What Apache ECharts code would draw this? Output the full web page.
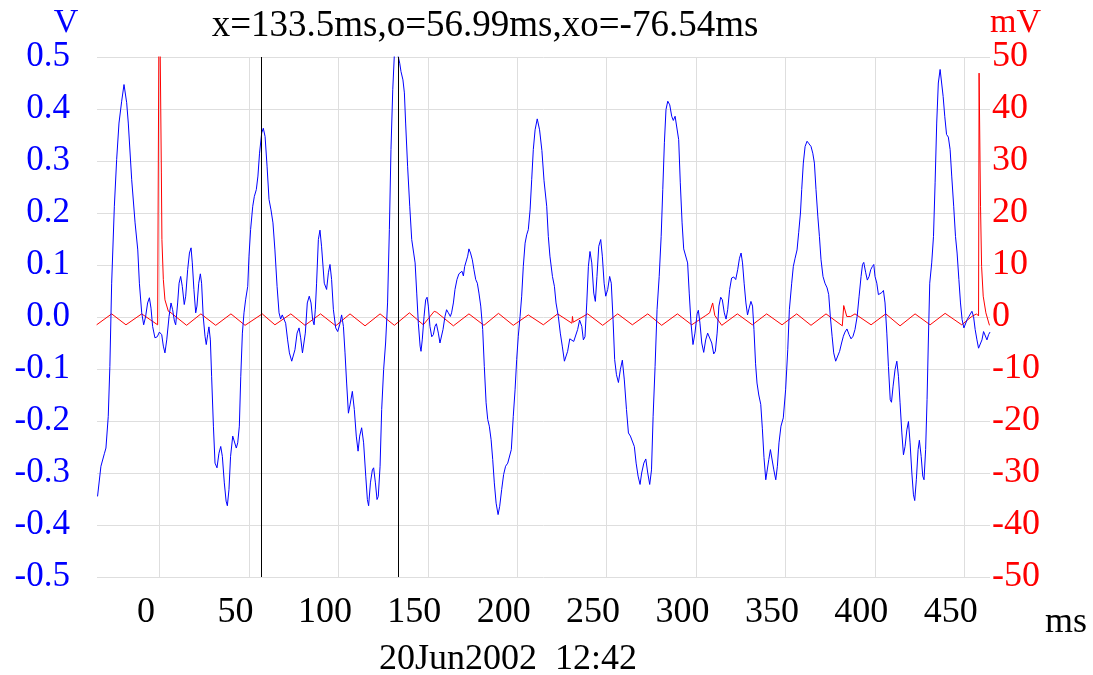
<!DOCTYPE html>
<html>
<head>
<meta charset="utf-8">
<script src="https://cdn.jsdelivr.net/npm/echarts@6.0.0/dist/echarts.min.js"></script>
<style>
  html, body { margin: 0; padding: 0; background: #fff; }
  #chart { width: 1093px; height: 675px; }
</style>
</head>
<body>
<div id="chart"></div>
<script>
// blue trace (V), time in ms
const blueMs = [
  -34.7, -32.8, -30.9, -30.0, -28.7, -27.8, -26.8, -25.3, -24.0, -22.7, -21.2, -19.9, -18.4, -17.5, -15.6, -13.7,
  -12.2, -11.3, -10.0, -8.9, -7.8, -6.7, -5.7, -4.8, -3.9, -2.6, -1.3, -0.1, 1.2, 2.1, 3.0, 4.0,
  5.3, 6.4, 7.3, 8.3, 9.0, 10.1, 10.9, 11.8, 12.7, 13.8, 14.6, 15.7, 16.7, 17.6, 18.3, 19.2,
  20.2, 20.9, 21.9, 22.8, 23.5, 24.4, 25.4, 26.1, 26.9, 27.6, 28.4, 29.1, 30.1, 31.0, 32.1, 33.2,
  34.2, 35.1, 36.2, 37.2, 37.9, 38.8, 39.7, 40.9, 41.8, 42.9, 43.7, 44.6, 45.4, 46.3, 47.2, 48.1,
  49.3, 50.0, 50.9, 52.1, 53.0, 54.1, 55.0, 55.9, 57.1, 58.0, 59.0, 60.1, 61.2, 62.3, 63.4, 64.5,
  65.7, 66.8, 67.7, 68.6, 69.6, 70.5, 71.6, 72.6, 73.9, 74.8, 75.7, 76.9, 78.0, 78.9, 79.9, 80.6,
  81.5, 82.6, 83.7, 84.7, 85.6, 86.4, 87.1, 87.8, 88.8, 89.7, 90.6, 92.1, 93.4, 94.4, 95.3, 96.2,
  97.2, 98.5, 99.6, 100.7, 101.8, 102.8, 103.7, 104.6, 105.6, 106.5, 107.8, 108.9, 110.0, 111.0, 111.9, 113.0,
  114.1, 115.3, 116.2, 116.9, 117.9, 119.0, 119.7, 120.7, 121.6, 122.3, 123.3, 124.2, 125.3, 126.4, 127.5, 128.5,
  129.4, 130.4, 131.3, 132.2, 133.2, 134.3, 135.0, 136.1, 136.9, 137.6, 138.7, 139.9, 141.0, 142.1, 142.9, 143.8,
  144.7, 145.7, 146.2, 146.9, 147.9, 148.8, 149.6, 150.3, 151.2, 152.2, 153.1, 154.0, 154.8, 155.9, 156.8, 157.6,
  158.5, 159.6, 160.5, 161.5, 162.6, 163.3, 164.3, 165.2, 166.3, 167.4, 168.4, 169.1, 169.9, 170.6, 171.5, 172.3,
  173.0, 173.9, 174.9, 175.8, 176.8, 177.7, 178.6, 179.6, 180.7, 181.6, 182.6, 183.5, 184.4, 185.4, 186.3, 187.2,
  188.2, 189.3, 190.2, 191.3, 192.4, 193.5, 194.7, 195.8, 196.7, 197.8, 198.8, 199.7, 200.6, 201.6, 202.5, 203.4,
  204.4, 205.3, 206.2, 207.2, 208.1, 209.0, 210.0, 211.2, 212.5, 213.8, 215.0, 216.5, 217.4, 218.3, 219.7, 220.8,
  221.7, 223.0, 224.1, 225.2, 226.4, 227.3, 228.2, 229.4, 230.5, 231.6, 232.7, 233.8, 234.9, 236.1, 237.0, 237.9,
  238.9, 239.8, 240.7, 241.7, 242.8, 243.7, 244.6, 245.6, 246.7, 247.6, 248.6, 249.5, 250.6, 251.7, 252.6, 253.6,
  254.5, 255.5, 256.6, 257.7, 258.8, 259.9, 261.1, 262.2, 263.3, 264.4, 265.5, 266.5, 267.6, 268.7, 269.6, 270.8,
  271.9, 273.0, 274.1, 275.1, 276.0, 277.1, 278.2, 279.4, 280.5, 281.4, 282.3, 283.2, 284.2, 285.3, 286.4, 287.3,
  288.3, 289.4, 290.3, 291.2, 292.2, 293.1, 294.2, 295.3, 296.2, 297.2, 298.3, 299.4, 300.6, 301.3, 302.2, 303.2,
  304.3, 305.4, 306.5, 307.6, 308.8, 309.9, 310.8, 311.8, 312.8, 313.8, 314.7, 315.8, 316.8, 317.7, 318.8, 319.9,
  321.1, 322.2, 323.3, 324.3, 325.2, 326.0, 326.9, 327.9, 328.8, 329.7, 330.7, 331.6, 332.4, 333.3, 334.1, 335.1,
  336.2, 337.1, 338.0, 339.0, 339.7, 340.7, 341.6, 342.5, 343.5, 344.6, 345.5, 346.4, 347.5, 348.8, 350.1, 351.3,
  352.2, 353.5, 354.4, 355.4, 356.5, 357.4, 358.4, 359.1, 360.0, 361.0, 362.1, 363.2, 364.3, 365.3, 366.2, 367.1,
  368.1, 369.0, 369.9, 371.0, 372.1, 373.3, 374.2, 375.1, 376.1, 377.0, 378.1, 379.2, 380.3, 381.4, 382.4, 383.3,
  384.4, 385.6, 386.7, 387.8, 388.9, 390.1, 391.2, 392.3, 393.1, 393.8, 394.9, 395.8, 396.8, 397.7, 398.6, 399.4,
  400.1, 401.1, 402.0, 402.9, 403.9, 404.8, 405.7, 406.7, 407.6, 408.6, 409.3, 410.2, 411.3, 412.3, 413.2, 414.1,
  415.1, 416.0, 416.9, 417.9, 418.8, 419.7, 420.7, 421.6, 422.3, 423.2, 424.2, 424.9, 425.9, 426.8, 427.5, 428.4,
  429.2, 429.9, 430.7, 431.8, 432.8, 433.7, 434.6, 435.5, 436.5, 437.2, 438.2, 439.1, 440.1, 441.1, 442.1, 443.0,
  444.1, 445.1, 446.0, 447.0, 447.9, 448.8, 449.8, 450.7, 451.6, 452.6, 453.5, 454.3, 455.2, 456.1, 457.1, 458.0,
  459.0, 459.9, 460.8, 461.8, 462.7, 463.6, 464.4
]
const blueV = [
  -0.345, -0.287, -0.263, -0.252, -0.191, -0.095, 0.065, 0.213, 0.303, 0.373, 0.415, 0.447, 0.412, 0.373, 0.264, 0.181,
  0.129, 0.065, 0.008, -0.015, 0.001, 0.027, 0.037, 0.017, -0.018, -0.040, -0.038, -0.029, -0.034, -0.056, -0.069, -0.044,
  0.001, 0.027, 0.014, -0.008, -0.015, 0.027, 0.065, 0.078, 0.059, 0.024, 0.040, 0.091, 0.123, 0.133, 0.104, 0.053,
  0.008, 0.021, 0.065, 0.083, 0.065, 0.001, -0.037, -0.053, -0.034, -0.019, -0.044, -0.114, -0.210, -0.281, -0.290, -0.262,
  -0.249, -0.268, -0.319, -0.354, -0.363, -0.332, -0.268, -0.229, -0.226, -0.252, -0.242, -0.210, -0.114, -0.031, 0.008, 0.033,
  0.059, 0.117, 0.168, 0.213, 0.232, 0.245, 0.271, 0.315, 0.354, 0.363, 0.347, 0.290, 0.226, 0.206, 0.181, 0.129,
  0.059, 0.008, -0.004, 0.004, 0.004, -0.012, -0.044, -0.069, -0.085, -0.085, -0.063, -0.031, -0.021, -0.040, -0.069, -0.066,
  -0.031, 0.027, 0.040, 0.027, -0.005, -0.015, 0.015, 0.065, 0.149, 0.167, 0.135, 0.065, 0.053, 0.085, 0.101, 0.072,
  0.014, -0.021, -0.028, -0.015, 0.004, -0.018, -0.069, -0.127, -0.185, -0.169, -0.143, -0.178, -0.229, -0.258, -0.229, -0.213,
  -0.242, -0.306, -0.351, -0.363, -0.319, -0.294, -0.290, -0.319, -0.351, -0.345, -0.287, -0.178, -0.101, -0.050, 0.027, 0.168,
  0.322, 0.437, 0.505, 0.520, 0.505, 0.488, 0.472, 0.456, 0.431, 0.373, 0.290, 0.213, 0.149, 0.123, 0.104, 0.046,
  -0.012, -0.056, -0.066, -0.044, 0.001, 0.033, 0.038, 0.021, -0.018, -0.038, -0.034, -0.018, -0.013, -0.031, -0.050, -0.053,
  -0.024, 0.001, 0.014, 0.008, 0.001, 0.008, 0.027, 0.053, 0.072, 0.083, 0.086, 0.088, 0.079, 0.097, 0.094, 0.117,
  0.131, 0.123, 0.110, 0.091, 0.072, 0.065, 0.046, 0.021, -0.024, -0.095, -0.165, -0.197, -0.210, -0.236, -0.274, -0.319,
  -0.358, -0.380, -0.364, -0.332, -0.303, -0.287, -0.281, -0.279, -0.255, -0.191, -0.140, -0.082, -0.037, 0.001, 0.040, 0.097,
  0.142, 0.158, 0.168, 0.206, 0.264, 0.322, 0.360, 0.381, 0.360, 0.320, 0.262, 0.213, 0.155, 0.117, 0.078, 0.059,
  0.027, 0.001, -0.031, -0.056, -0.085, -0.088, -0.066, -0.042, -0.044, -0.047, -0.050, -0.024, -0.006, -0.018, -0.044, -0.038,
  0.027, 0.097, 0.126, 0.104, 0.046, 0.030, 0.078, 0.136, 0.149, 0.117, 0.065, 0.040, 0.053, 0.078, 0.065, -0.005,
  -0.082, -0.111, -0.126, -0.101, -0.083, -0.121, -0.178, -0.223, -0.229, -0.231, -0.249, -0.281, -0.306, -0.322, -0.300, -0.281,
  -0.273, -0.300, -0.322, -0.294, -0.191, -0.095, 0.014, 0.078, 0.155, 0.245, 0.335, 0.399, 0.415, 0.408, 0.386, 0.378,
  0.386, 0.388, 0.341, 0.258, 0.181, 0.131, 0.128, 0.104, 0.046, -0.012, -0.053, -0.031, 0.006, 0.013, -0.012, -0.050,
  -0.068, -0.044, -0.031, -0.029, -0.050, -0.071, -0.066, -0.031, 0.021, 0.038, 0.033, 0.008, -0.004, 0.014, 0.053, 0.075,
  0.077, 0.072, 0.091, 0.113, 0.123, 0.104, 0.065, 0.027, 0.004, 0.017, 0.030, 0.021, -0.024, -0.090, -0.127, -0.150,
  -0.168, -0.215, -0.270, -0.313, -0.316, -0.274, -0.255, -0.255, -0.294, -0.313, -0.287, -0.242, -0.210, -0.194, -0.140, -0.063,
  0.014, 0.065, 0.097, 0.113, 0.129, 0.162, 0.200, 0.245, 0.296, 0.328, 0.338, 0.333, 0.328, 0.315, 0.296, 0.245,
  0.194, 0.155, 0.110, 0.078, 0.065, 0.056, 0.043, 0.001, -0.037, -0.069, -0.085, -0.082, -0.066, -0.050, -0.037, -0.029,
  -0.023, -0.034, -0.042, -0.037, -0.024, 0.001, 0.040, 0.078, 0.101, 0.105, 0.085, 0.071, 0.078, 0.091, 0.097, 0.101,
  0.078, 0.065, 0.043, 0.046, 0.047, 0.051, 0.027, -0.031, -0.095, -0.159, -0.164, -0.133, -0.101, -0.085, -0.114, -0.165,
  -0.223, -0.265, -0.249, -0.217, -0.201, -0.242, -0.300, -0.342, -0.353, -0.313, -0.255, -0.237, -0.268, -0.306, -0.313, -0.255,
  -0.159, -0.050, 0.065, 0.104, 0.155, 0.258, 0.373, 0.450, 0.476, 0.474, 0.424, 0.386, 0.351, 0.346, 0.322, 0.271,
  0.213, 0.155, 0.123, 0.072, 0.027, -0.005, -0.021, -0.024, -0.005, 0.001, 0.004, 0.011, 0.001, -0.024, -0.044, -0.060,
  -0.061, -0.044, -0.028, -0.026, -0.044, -0.034, -0.029
]

// red trace (mV)
const redMs = [
  -35.2, -26.8, -18.8, -10.0, -1.1, -0.4, -0.2, 0.5, 1.0, 1.3, 2.1, 3.0, 4.9, 6.4, 15.1, 23.1,
  31.4, 39.9, 47.8, 57.4, 64.5, 73.4, 81.3, 90.0, 98.5, 106.5, 114.9, 123.3, 131.3, 139.7, 147.5, 153.6,
  155.0, 164.3, 173.0, 181.4, 189.5, 197.8, 206.2, 214.6, 222.6, 230.6, 230.9, 231.3, 239.4, 247.8, 256.2, 264.4,
  273.0, 280.8, 289.6, 297.6, 305.5, 307.6, 309.3, 310.5, 314.4, 323.1, 331.5, 339.5, 348.1, 356.3, 364.3, 372.7,
  381.8, 382.4, 382.6, 384.3, 386.5, 388.9, 397.9, 406.1, 414.1, 422.5, 430.9, 439.3, 448.6, 454.2, 456.9, 458.0,
  458.3, 459.1, 459.7, 460.6, 462.1, 464.0, 464.4
]
const redMV = [
  -1.5, 0.6, -1.5, 0.6, -1.5, -1.2, 70, 70, 27.7, 14.9, 7.2, 3.3, 1.1, 0.8, -1.6, 0.6,
  -1.6, 0.6, -1.6, 0.6, -1.5, 0.6, -1.6, 0.6, -1.7, 0.6, -1.7, 0.6, -1.6, 0.8, -1.5, 1.1,
  0.9, -1.7, 0.6, -1.6, 0.7, -1.6, 0.4, -1.5, 0.6, -1.2, 0.1, -1.0, 0.6, -1.6, 0.6, -1.5,
  0.6, -1.6, 0.6, -1.5, 0.3, 0.8, 2.7, 0.3, -1.6, 0.6, -1.5, 0.6, -1.5, 0.6, -1.6, 0.6,
  -1.7, -1.7, 2.2, 0.1, 0.1, 0.6, -1.5, 0.6, -1.7, 0.6, -1.5, 0.7, -1.5, 0.1, 0.6, 0.2,
  46.9, 21.3, 9.7, 4.0, 0.8, -1.5, -1.6
]

// cursor positions (ms)
const cursorMs = [56.99, 133.5]
const titleText = 'x=133.5ms,o=56.99ms,xo=-76.54ms'
const dateText = '20Jun2002  12:42'

const blueData = blueMs.map((t, i) => [t, blueV[i]])
const redData = redMs.map((t, i) => [t, redMV[i]])

const serif = 'Liberation Serif'
const gridColor = '#dedede'

const myChart = echarts.init(document.getElementById('chart'))

const option = {
  animation: false,
  backgroundColor: '#fff',
  textStyle: {fontFamily: serif},
  grid: {
    left: 97,
    right: 103,
    top: 57,
    bottom: 98,
    containLabel: false
  },
  xAxis: {
    type: 'value',
    min: -35,
    max: 464.4,
    splitNumber: 10,
    axisLine: {show: false},
    axisTick: {show: false},
    axisLabel: {
      showMinLabel: false,
      showMaxLabel: false,
      color: '#000',
      fontFamily: serif,
      fontSize: 36,
      margin: 18,
      padding: [0, 27, 0, 0]
    },
    splitLine: {
      show: true,
      showMinLine: false,
      showMaxLine: false,
      lineStyle: {color: gridColor, width: 1}
    }
  },
  yAxis: [
    {
      type: 'value',
      position: 'left',
      min: -0.5,
      max: 0.5,
      interval: 0.1,
      axisLine: {show: false},
      axisTick: {show: false},
      axisLabel: {
        color: '#0000ff',
        fontFamily: serif,
        fontSize: 35,
        margin: 27,
        padding: [10, 0, 0, 0],
        formatter: v => (Math.abs(v) < 1e-9 ? 0 : v).toFixed(1)
      },
      splitLine: {show: true, lineStyle: {color: gridColor, width: 1}}
    },
    {
      type: 'value',
      position: 'right',
      min: -50,
      max: 50,
      interval: 10,
      axisLine: {show: false},
      axisTick: {show: false},
      axisLabel: {
        color: '#ff0000',
        fontFamily: serif,
        fontSize: 36,
        margin: 2,
        padding: [9, 0, 0, 0],
        formatter: v => String(Math.round(v))
      },
      splitLine: {show: false}
    }
  ],
  series: [
    {
      name: 'mV',
      type: 'line',
      yAxisIndex: 1,
      data: redData,
      showSymbol: false,
      clip: true,
      lineStyle: {color: '#ff0000', width: 1},
      z: 2
    },
    {
      name: 'V',
      type: 'line',
      yAxisIndex: 0,
      data: blueData,
      showSymbol: false,
      clip: true,
      lineStyle: {color: '#0000ff', width: 1},
      z: 3,
      markLine: {
        silent: true,
        symbol: ['none', 'none'],
        label: {show: false},
        lineStyle: {color: '#000', width: 1, type: 'solid'},
        data: cursorMs.map(t => ({xAxis: t}))
      }
    }
  ],
  graphic: [
    {
      type: 'text', x: 485, y: 26,
      style: {text: titleText, fill: '#000', fontFamily: serif, fontSize: 37, align: 'center', verticalAlign: 'middle'}
    },
    {
      type: 'text', x: 66, y: 23,
      style: {text: 'V', fill: '#0000ff', fontFamily: serif, fontSize: 34, align: 'center', verticalAlign: 'middle'}
    },
    {
      type: 'text', x: 990, y: 23,
      style: {text: 'mV', fill: '#ff0000', fontFamily: serif, fontSize: 34, align: 'left', verticalAlign: 'middle'}
    },
    {
      type: 'text', x: 1045, y: 623,
      style: {text: 'ms', fill: '#000', fontFamily: serif, fontSize: 36, align: 'left', verticalAlign: 'middle'}
    },
    {
      type: 'text', x: 508, y: 660,
      style: {text: dateText, fill: '#000', fontFamily: serif, fontSize: 36, align: 'center', verticalAlign: 'middle'}
    }
  ]
}
myChart.setOption(option)
</script>
</body>
</html>
